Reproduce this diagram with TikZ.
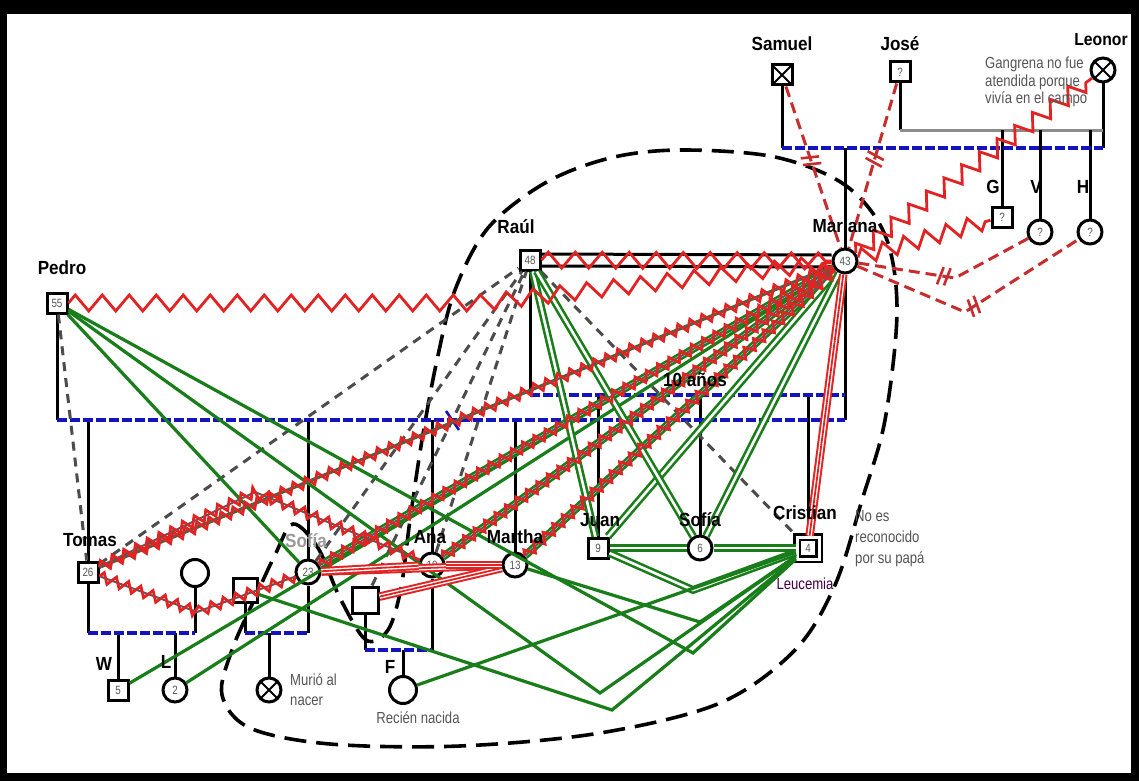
\documentclass[tikz,border=0pt]{standalone}
\usepackage{fontspec}
\setmainfont{Liberation Sans}
\newfontfamily\narrowfont{Liberation Sans}[FakeStretch=0.82]
\newfontfamily\namefont{Liberation Sans}[FakeStretch=0.9]
\usetikzlibrary{decorations.pathmorphing, decorations.markings, calc, positioning}
\definecolor{unionblue}{RGB}{20,20,190}
\definecolor{closegreen}{RGB}{25,125,25}
\definecolor{hostred}{RGB}{225,35,35}
\definecolor{cutred}{RGB}{200,45,45}
\definecolor{notegray}{RGB}{85,85,85}

\begin{document}
\begin{tikzpicture}[
    x=1pt, y=-1pt,
    male/.style={rectangle, draw, line width=3pt, fill=white, minimum size=20pt, inner sep=0pt, font=\narrowfont\fontsize{12}{12}\selectfont, text=notegray},
    female/.style={circle, draw, line width=3pt, fill=white, minimum size=24pt, inner sep=0pt, font=\narrowfont\fontsize{12}{12}\selectfont, text=notegray},
    dead/.style={path picture={\draw[line width=1.8pt] (path picture bounding box.north west) -- (path picture bounding box.south east) (path picture bounding box.north east) -- (path picture bounding box.south west);}},
    pname/.style={font=\namefont\bfseries\fontsize{19}{19}\selectfont},
    note/.style={font=\narrowfont\fontsize{16}{18}\selectfont, text=notegray, align=left, inner sep=0pt},
    kin/.style={line width=3pt},
    union/.style={unionblue, line width=3.5pt, dash pattern=on 10pt off 3pt},
    close/.style={closegreen, line width=3.2pt},
    closepair/.style={closegreen, line width=2.6pt, double=white, double distance=2.6pt},
    redband/.style={hostred, line width=2pt, double=white, double distance=4.5pt, postaction={draw=hostred, line width=1.8pt}},
    hostile/.style={hostred, line width=2.8pt, decorate, decoration={zigzag, segment length=27pt, amplitude=8pt}},
    spiky/.style={black!65, line width=2pt, postaction={draw=hostred, line width=2.8pt, decorate, decoration={zigzag, segment length=13pt, amplitude=5pt}}},
    cutline/.style={cutred, line width=3pt, dash pattern=on 11pt off 6pt},
    cutmark/.style={postaction={decorate, decoration={markings, mark=at position #1 with {\draw[cutred, line width=2.6pt, solid] (-4pt,-9pt) -- (0pt,9pt) (3pt,-9pt) -- (7pt,9pt);}}}},
    distant/.style={black!70, line width=3pt, dash pattern=on 9pt off 7pt},
    household/.style={line width=3.6pt, dash pattern=on 22pt off 10pt}
]
% frame
\fill[black] (0,0) rectangle (1139,781);
\fill[white] (7,14) rectangle (1131,773);

% household
\draw[household] plot[smooth cycle, tension=0.55] coordinates {
  (680,150) (775,157) (845,185) (885,235) (897,310) (885,420) (862,500) (835,585)
  (795,650) (720,703) (600,733) (460,746) (330,744) (250,728) (222,695) (232,650)
  (255,598) (275,555) (293,524) (318,548) (340,598) (366,640) (388,630) (401,588)
  (410,520) (422,440) (437,360) (455,290) (488,228) (545,183) (610,158)};

% grandparents
\node[male, dead] (sam) at (782,75) {};
\node[male] (jose) at (900,72) {?};
\node[female, dead] (leo) at (1103,70) {};
\node[male] (g) at (1002,217) {?};
\node[female] (v) at (1040,232) {?};
\node[female] (h) at (1090,232) {?};

% parents
\node[male] (pedro) at (57,303) {55};
\node[male] (raul) at (530,260) {48};
\node[female] (mar) at (845,261) {43};

% children
\node[male] (tom) at (88,572) {26};
\node[female, minimum size=27pt] (tomw) at (195,573) {};
\node[male] (w) at (118,690) {5};
\node[female] (l) at (175,690) {2};
\node[male, minimum size=24pt] (sq1) at (245,590) {};
\node[female] (c23) at (308,572) {23};
\node[female, dead] (baby) at (269,690) {};
\node[male, minimum size=26pt] (sq2) at (365,600) {};
\node[female] (ana) at (432,565) {19};
\node[female, minimum size=27pt] (f) at (403,690) {};
\node[female] (mtha) at (515,565) {13};
\node[male] (juan) at (598,548) {9};
\node[female] (sofia) at (700,548) {6};
\node[male, double, double distance=3pt, line width=2.6pt, minimum size=22pt] (cri) at (808,548) {4};

% family lines
\coordinate (u1l) at (782,148);
\coordinate (u1r) at (1103,148);
\coordinate (u1c) at (845,148);
\coordinate (u2l) at (900,130);
\coordinate (u2r) at (1103,130);
\draw[kin] (sam) -- (u1l);
\draw[kin] (leo) -- (u1r);
\draw[kin] (jose) -- (u2l);
\draw[kin, black!45] (u2l) -- (u2r);
\draw[kin] (u1c) -- (mar);
\draw[kin] (1002,130) -- (g);
\draw[kin] (1040,130) -- (v);
\draw[kin] (1090,130) -- (h);
\draw[union] (u1l) -- (u1r);

\coordinate (u3l) at (57,420);
\coordinate (u3r) at (845,420);
\coordinate (u4l) at (530,395);
\coordinate (u4r) at (845,395);
\draw[kin] (pedro) -- (u3l);
\draw[kin] (raul) -- (u4l);
\draw[kin] (mar) -- (u3r);
\draw[kin] (88,420) -- (tom);
\draw[kin] (308,420) -- (c23);
\draw[kin] (432,420) -- (ana);
\draw[kin] (515,420) -- (mtha);
\draw[kin] (598,395) -- (juan);
\draw[kin] (700,395) -- (sofia);
\draw[kin] (808,395) -- (cri);
\draw[union] (u3l) -- (u3r);
\draw[union] (u4l) -- (u4r);
\draw[unionblue, line width=2.6pt] (446,411) -- (459,430);

\coordinate (u5l) at (88,633);
\coordinate (u5r) at (195,633);
\draw[kin] (tom) -- (u5l);
\draw[kin] (tomw) -- (u5r);
\draw[kin] (118,633) -- (w);
\draw[kin] (175,633) -- (l);
\draw[union] (u5l) -- (u5r);
\coordinate (u6l) at (245,633);
\coordinate (u6r) at (308,633);
\draw[kin] (sq1) -- (u6l);
\draw[kin] (c23) -- (u6r);
\draw[kin] (269,633) -- (baby);
\draw[union] (u6l) -- (u6r);
\coordinate (u7l) at (365,650);
\coordinate (u7r) at (432,650);
\draw[kin] (sq2) -- (u7l);
\draw[kin] (ana) -- (u7r);
\draw[kin] (403,650) -- (f);
\draw[union] (u7l) -- (u7r);

% cut off
\draw[cutline, cutmark=0.45] (sam) -- (mar);
\draw[cutline, cutmark=0.45] (jose) -- (mar);
\draw[cutline, cutmark=0.47] (mar) -- (955,278) -- (v);
\draw[cutline, cutmark=0.5] (mar) -- (965,312) -- (h);

% distant
\draw[distant] (pedro) -- (tom);
\draw[distant] (tom) -- (raul);
\draw[distant] (c23) -- (raul);
\draw[distant] (ana) -- (raul);
\draw[distant] (sq2) -- (raul);
\draw[distant] (raul) -- (cri);

% close
\draw[close] (pedro) -- (c23);
\draw[close] (pedro) -- (600,693) -- (cri);
\draw[close] (pedro) -- (693,653) -- (cri);
\draw[close] (mar) -- (tom);
\draw[close] (mar) -- (w);
\draw[close] (mar) -- (l);
\draw[closepair] (mar) -- (c23);
\draw[closepair] (mar) -- (ana);
\draw[closepair] (mar) -- (mtha);
\draw[closepair] (mar) -- (juan);
\draw[closepair] (mar) -- (sofia);
\draw[closepair] (raul) -- (juan);
\draw[closepair] (raul) -- (sofia);
\draw[closepair] (juan) -- (sofia);
\draw[closepair] (sofia) -- (cri);
\draw[closepair] (juan) -- (693,590) -- (cri);
\draw[close] (mtha) -- (700,622) -- (cri);
\draw[close] (sq1) -- (612,710) -- (cri);
\draw[close] (f) -- (cri);

% hostile
\draw[kin] ($(raul.east)+(0,-6)$) -- ($(mar.west)+(0,-6)$);
\draw[kin] ($(raul.east)+(0,6)$) -- ($(mar.west)+(0,6)$);
\draw[hostile] (raul) -- (mar);
\draw[hostile] (pedro) -- (480,303) -- (mar);
\draw[hostile, decoration={segment length=22pt}] (mar) -- (leo);
\draw[hostile, decoration={segment length=22pt}] (mar) -- (g);
\draw[spiky] (tom) -- (mar);
\draw[spiky] (tom) -- (255,492) -- (ana);
\draw[spiky] (tom) -- (197,612) -- (c23);
\draw[spiky] (c23) -- (mar);
\draw[spiky] (ana) -- (mar);
\draw[spiky] (mtha) -- (mar);
\draw[redband] (mar) -- (cri);
\draw[redband] (c23) -- (mtha);
\draw[redband] (c23) -- (ana);
\draw[redband] (sq2) -- (mtha);
\draw[redband] (ana) -- (mtha);

% names and notes
\node[pname] at (782,44) {Samuel};
\node[pname] at (900,44) {José};
\node[pname, font=\namefont\bfseries\fontsize{17.5}{17.5}\selectfont] at (1101,40) {Leonor};
\node[note, anchor=north west, font=\narrowfont\fontsize{16}{17.5}\selectfont] at (985,57) {Gangrena no fue\\atendida porque\\vivía en el campo};
\node[pname] at (993,187) {G};
\node[pname] at (1036,187) {V};
\node[pname] at (1083,187) {H};
\node[pname] at (62,268) {Pedro};
\node[pname] at (516,227) {Raúl};
\node[pname] at (845,226) {Mariana};
\node[pname] at (90,540) {Tomas};
\node[pname, text=black!40] at (306,541) {Sofía};
\node[pname] at (430,537) {Ana};
\node[pname] at (515,537) {Martha};
\node[pname] at (600,520) {Juan};
\node[pname] at (700,520) {Sofía};
\node[pname] at (805,513) {Cristian};
\node[pname] at (104,664) {W};
\node[pname] at (166,662) {L};
\node[pname] at (390,667) {F};
\node[pname] at (695,380) {10 años};
\node[note, text=black!45!violet] at (805,584) {Leucemia};
\node[note, anchor=west, font=\narrowfont\fontsize{16}{20}\selectfont] at (290,690) {Murió al\\nacer};
\node[note] at (418,718) {Recién nacida};
\node[note, anchor=north west, font=\narrowfont\fontsize{16}{21}\selectfont] at (855,510) {No es\\reconocido\\por su papá};
\end{tikzpicture}
\end{document}
